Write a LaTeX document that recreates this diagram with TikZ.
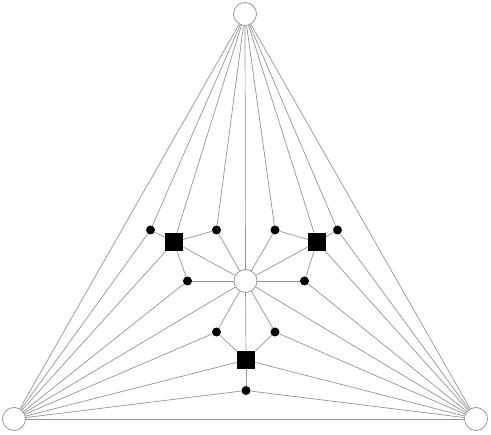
\documentclass[tikz,border=0pt]{standalone}
\begin{document}
\begin{tikzpicture}[x=1pt,y=-1pt,
  big/.style={circle,draw=black!45,fill=white,line width=0.7pt,inner sep=0pt,minimum size=23pt},
  sq/.style={rectangle,fill=black,inner sep=0pt,minimum size=18pt},
  dot/.style={circle,fill=black,inner sep=0pt,minimum size=9pt},
  edge/.style={draw=black!42,line width=0.7pt}]
\useasboundingbox (0,0) rectangle (491,435);
\node[big] (T) at (245,14) {};
\node[big] (BL) at (14,419) {};
\node[big] (BR) at (476,419) {};
\node[big] (C) at (245.5,281) {};
\node[sq] (SL) at (174,242) {};
\node[sq] (SR) at (317,242) {};
\node[sq] (SB) at (246,360) {};
\node[dot] (a1) at (150.5,230) {};
\node[dot] (a2) at (216.5,230) {};
\node[dot] (a3) at (275,230) {};
\node[dot] (a4) at (337.5,230) {};
\node[dot] (b1) at (187.5,281) {};
\node[dot] (b2) at (304.5,281) {};
\node[dot] (c1) at (216.5,332) {};
\node[dot] (c2) at (275,332) {};
\node[dot] (d) at (246,390.5) {};
\foreach \u/\v in {T/BL,T/BR,BL/BR,
  T/a1,T/SL,T/a2,T/C,T/a3,T/SR,T/a4,
  BL/a1,BL/SL,BL/b1,BL/C,BL/c1,BL/SB,BL/d,
  BR/a4,BR/SR,BR/b2,BR/C,BR/c2,BR/SB,BR/d,
  a1/SL,SL/a2,a2/C,SL/C,SL/b1,b1/C,
  a3/SR,SR/a4,a3/C,SR/C,SR/b2,b2/C,
  c1/C,c1/SB,c2/C,c2/SB,C/SB,SB/d}
  \draw[edge] (\u) -- (\v);
\end{tikzpicture}
\end{document}
